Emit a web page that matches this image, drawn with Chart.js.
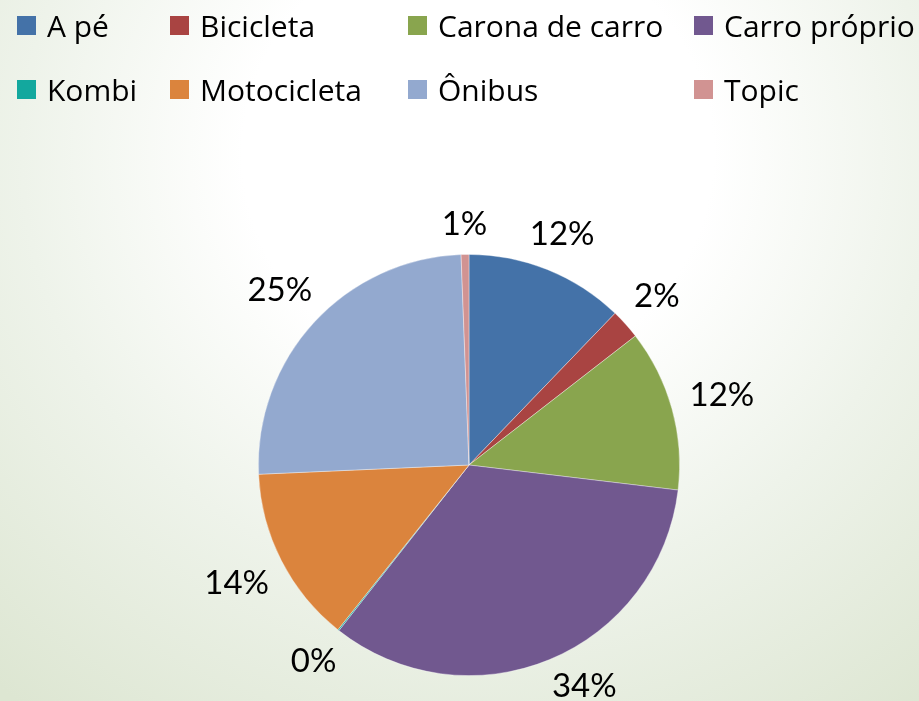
<!DOCTYPE html>
<html>
<head>
<meta charset="utf-8">
<script src="https://cdn.jsdelivr.net/npm/chart.js@4.4.1/dist/chart.umd.min.js"></script>
<style>
  html, body { margin: 0; padding: 0; }
  body {
    width: 919px; height: 701px; overflow: hidden; position: relative;
    background: radial-gradient(ellipse 80% 100% at 52% 22%, #ffffff 32%, #eef3ea 62%, #dde6d2 100%);
    font-family: "Open Sans", sans-serif;
  }
  #wrap { position: absolute; left: 0; top: 0; width: 919px; height: 701px; }
  #legenda { position: absolute; left: 0; top: 0; width: 919px; height: 120px; }
  .leg-item { position: absolute; display: flex; align-items: center; height: 20px; font-size: 30px; color: #000; white-space: nowrap; }
  .leg-box { width: 19px; height: 19px; margin-right: 11px; flex: none; }
</style>
</head>
<body>
<div id="wrap"><canvas id="chart-modal"></canvas></div>
<div id="legenda"></div>
<script>
// ── dati ────────────────────────────────────────────
const categorie = ['A pé', 'Bicicleta', 'Carona de carro', 'Carro próprio', 'Kombi', 'Motocicleta', 'Ônibus', 'Topic'];
const valori    = [12.2, 2.3, 12.4, 33.7, 0.1, 13.6, 25.1, 0.6];
const colori    = ['#4472A8', '#A94442', '#89A54E', '#71588F', '#13A89E', '#DB843D', '#93A9CF', '#D19392'];

// posizioni colonne / righe della legenda
const legCol = [17, 170, 408, 694];
const legRow = [15, 79];

// etichette percentuali fuori dalla torta
const etichettePlugin = {
  id: 'etichette',
  afterDatasetsDraw(chart) {
    const { ctx } = chart;
    const meta = chart.getDatasetMeta(0);
    const tot = valori.reduce((a, b) => a + b, 0);
    ctx.save();
    ctx.font = '33px Lato';
    ctx.fillStyle = '#000';
    ctx.textAlign = 'center';
    ctx.textBaseline = 'middle';
    meta.data.forEach((arc, i) => {
      const txt = Math.round(valori[i] / tot * 100) + '%';
      let mid = (arc.startAngle + arc.endAngle) / 2;
      const halfW = ctx.measureText(txt).width / 2;
      const d = arc.outerRadius + 30 + Math.abs(Math.cos(mid)) * halfW * 0.7;
      // se esce dal fondo, ruota verso l'esterno come fa Excel
      const yMax = chart.height - 15;
      if (arc.y + Math.sin(mid) * d > yMax) mid = Math.asin((yMax - arc.y) / d) * (Math.cos(mid) >= 0 ? 1 : -1) + (Math.cos(mid) >= 0 ? 0 : Math.PI);
      ctx.fillText(txt, arc.x + Math.cos(mid) * d, arc.y + Math.sin(mid) * d);
    });
    ctx.restore();
  }
};

const chartModal = new Chart(document.getElementById('chart-modal'), {
  type: 'pie',
  data: {
    labels: categorie,
    datasets: [{ data: valori, backgroundColor: colori, borderColor: 'rgba(255,255,255,0.45)', borderWidth: 0.8 }]
  },
  options: {
    responsive: true, maintainAspectRatio: false, animation: false,
    layout: { padding: { top: 254, bottom: 25, left: 258, right: 239 } },
    plugins: { legend: { display: false }, tooltip: { enabled: false } }
  },
  plugins: [etichettePlugin]
});

// legenda costruita dalle etichette del grafico
const items = chartModal.options.plugins.legend.labels.generateLabels(chartModal);
document.getElementById('legenda').innerHTML = items.map((it, i) => `
  <div class="leg-item" style="left:${legCol[i % 4]}px;top:${legRow[Math.floor(i / 4)]}px">
    <span class="leg-box" style="background:${colori[i]}"></span>${it.text}</div>`).join('');
</script>
</body>
</html>
